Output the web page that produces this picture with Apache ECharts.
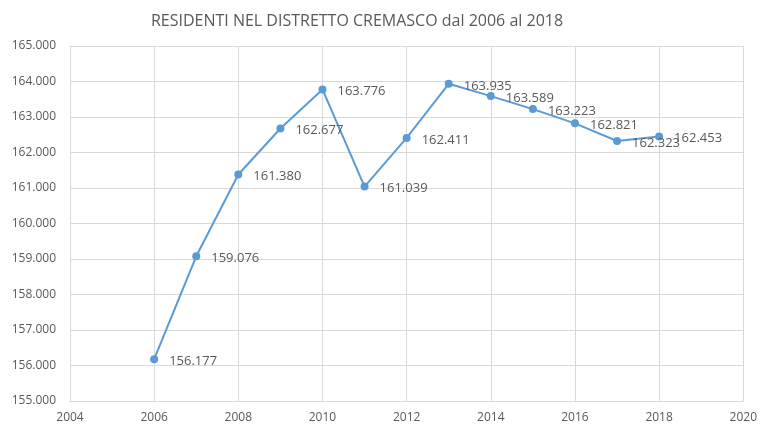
<!DOCTYPE html>
<html>
<head>
<meta charset="utf-8">
<script src="https://cdn.jsdelivr.net/npm/echarts@6/dist/echarts.min.js"></script>
<style>
  html, body { margin: 0; padding: 0; background: #fff; }
  #chart { width: 760px; height: 424px; }
</style>
</head>
<body>
<div id="chart"></div>
<script>
var anni = [2006, 2007, 2008, 2009, 2010, 2011, 2012, 2013, 2014, 2015, 2016, 2017, 2018]
var residenti = [156177, 159076, 161380, 162677, 163776, 161039, 162411, 163935, 163589, 163223, 162821, 162323, 162453]

function fmt(v) {
  return String(Math.round(v)).replace(/\B(?=(\d{3})+(?!\d))/g, '.')
}

var chart = echarts.init(document.getElementById('chart'))
chart.setOption({
  backgroundColor: '#ffffff',
  animation: false,
  textStyle: { fontFamily: 'Open Sans' },
  title: {
    text: 'RESIDENTI NEL DISTRETTO CREMASCO dal 2006 al 2018',
    left: 352,
    textAlign: 'center',
    top: 8,
    textStyle: {
      fontWeight: 'normal',
      fontSize: 16,
      color: '#595959',
      fontFamily: 'Open Sans'
    }
  },
  grid: {
    left: 70,
    right: 16,
    top: 46,
    bottom: 22
  },
  xAxis: {
    type: 'value',
    min: 2004,
    max: 2020,
    interval: 2,
    axisLine: { show: true, lineStyle: { color: '#d9d9d9' } },
    axisTick: { show: false },
    axisLabel: { color: '#595959', fontSize: 12, margin: 11, formatter: function (v) { return String(v) } },
    splitLine: { show: true, lineStyle: { color: '#d9d9d9' } }
  },
  yAxis: {
    type: 'value',
    min: 155000,
    max: 165000,
    interval: 1000,
    axisLine: { show: true, lineStyle: { color: '#d9d9d9' } },
    axisTick: { show: false },
    axisLabel: {
      color: '#595959',
      fontSize: 12,
      margin: 14,
      formatter: fmt
    },
    splitLine: { show: true, lineStyle: { color: '#d9d9d9' } }
  },
  series: [{
    type: 'line',
    data: anni.map(function (a, i) { return [a, residenti[i]] }),
    symbol: 'circle',
    symbolSize: 8,
    lineStyle: { color: '#5b9bd5', width: 2 },
    itemStyle: { color: '#5b9bd5' },
    label: {
      show: true,
      position: 'right',
      distance: 11,
      offset: [0, 2],
      color: '#595959',
      fontSize: 13,
      formatter: function (p) { return fmt(p.value[1]) }
    }
  }]
})
</script>
</body>
</html>
